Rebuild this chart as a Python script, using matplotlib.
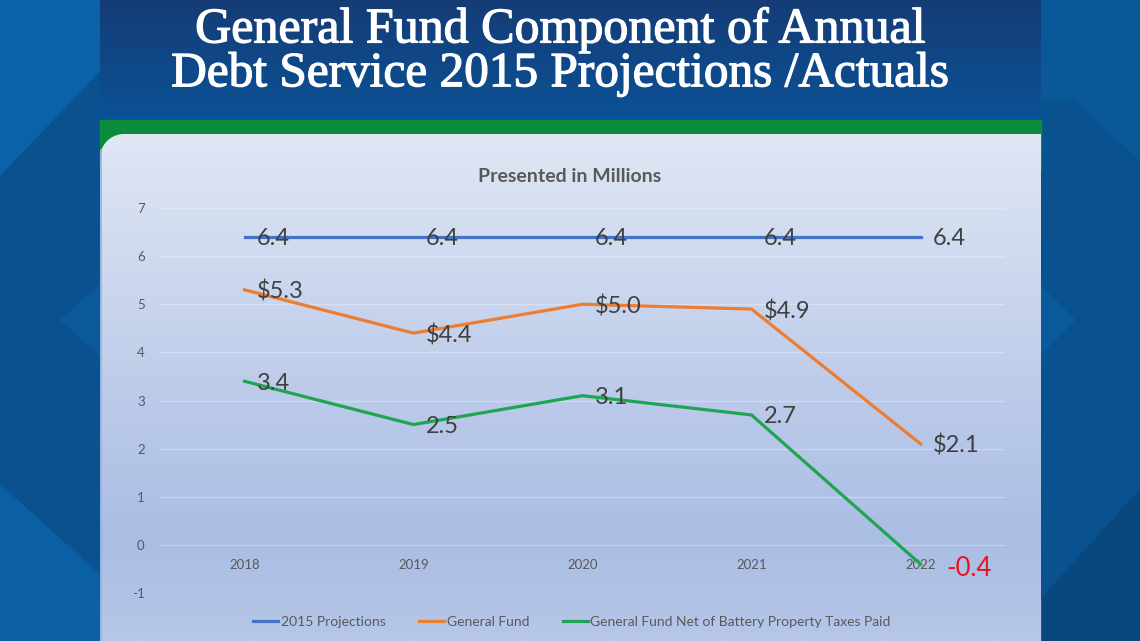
import matplotlib
matplotlib.use("Agg")
import matplotlib.pyplot as plt
import matplotlib.patheffects as pe
import numpy as np
from matplotlib.patches import Polygon, Rectangle
from matplotlib.lines import Line2D

plt.rcParams['font.family'] = ['Lato', 'DejaVu Sans']
plt.rcParams['axes.unicode_minus'] = False

# --- chart data (millions) ---
years = ["2018", "2019", "2020", "2021", "2022"]
projections = [6.4, 6.4, 6.4, 6.4, 6.4]
general_fund = [5.3, 4.4, 5.0, 4.9, 2.1]
net_of_battery = [3.4, 2.5, 3.1, 2.7, -0.4]

series_names = ["2015 Projections", "General Fund",
                "General Fund Net of Battery Property Taxes Paid"]
series_colors = ["#4472C4", "#ED7D31", "#1FA552"]
label_fmt = ["{:.1f}", "${:.1f}", "{:.1f}"]

W, H = 1140, 641
fig = plt.figure(figsize=(W / 100, H / 100), dpi=100)

# ---------- slide background (pixel coords) ----------
bg = fig.add_axes([0, 0, 1, 1])
bg.set_xlim(0, W)
bg.set_ylim(H, 0)
bg.axis("off")

bg.add_patch(Rectangle((0, 0), W, H, color="#09528f", zorder=0))
# diagonal shading on the side strips
bg.add_patch(Polygon([(0, 0), (100, 0), (100, 70), (0, 175)], color="#0b62a7", zorder=1))
bg.add_patch(Polygon([(0, 485), (100, 575), (100, H), (0, H)], color="#0b5fa3", zorder=1))
bg.add_patch(Polygon([(60, 320), (100, 285), (100, 355)], color="#0a5a9b", zorder=1))
bg.add_patch(Polygon([(1040, 0), (1140, 0), (1140, 160), (1075, 100), (1040, 100)],
                     color="#0a5898", zorder=1))
bg.add_patch(Polygon([(1040, 600), (1140, 490), (1140, H), (1040, H)], color="#08487f", zorder=1))
bg.add_patch(Polygon([(1040, 285), (1075, 320), (1040, 355)], color="#0a5a9b", zorder=1))

# banner gradient
grad = np.linspace(0, 1, 120)[:, None]
top_c = np.array([0x15, 0x3c, 0x76]) / 255
bot_c = np.array([0x0b, 0x52, 0x96]) / 255
banner = top_c + (bot_c - top_c) * grad[..., None]
bg.imshow(np.repeat(banner, 2, axis=1), extent=(100, 1041, 120, 0), aspect="auto", zorder=2)

# green stripe
bg.add_patch(Rectangle((100, 120), 941, 50, color="#0b8b3c", zorder=3))
bg.add_patch(Polygon([(1020, H), (1041, 600), (1041, H)], color="#0b8b3c", zorder=3))

# panel with rounded top-left corner
r = 24
ang = np.linspace(np.pi, 1.5 * np.pi, 20)
corner = [(100 + r + r * np.cos(a), 134 + r + r * np.sin(a)) for a in ang]
panel_pts = [(100, H + 5)] + corner + [(1041, 134), (1041, H + 5)]
panel = Polygon(panel_pts, closed=True, facecolor="none", edgecolor="none", zorder=4)
bg.add_patch(panel)
stops_y = [0.0, 0.55, 0.8, 1.0]
stops_c = [np.array([0xe0, 0xe7, 0xf4]), np.array([0xba, 0xc9, 0xe9]),
           np.array([0xaa, 0xbd, 0xe3]), np.array([0xb6, 0xc7, 0xe8])]
ty = np.linspace(0, 1, 300)
pg = np.stack([np.interp(ty, stops_y, [c[k] for c in stops_c]) for k in range(3)], axis=1) / 255
img = bg.imshow(np.repeat(pg[:, None, :], 2, axis=1), extent=(100, 1041, H, 134),
                aspect="auto", zorder=4)
img.set_clip_path(panel)
bg.plot([100.5, 100.5], [150, H], color="#8db3e6", lw=1.2, zorder=5)

# slide title (regular serif thickened a little)
thick = [pe.withStroke(linewidth=0.9, foreground="white")]
bg.text(560, 30, "General Fund Component of Annual", color="white",
        family="Liberation Serif", fontsize=36, ha="center", va="center",
        zorder=6, path_effects=thick)
bg.text(560, 74, "Debt Service 2015 Projections /Actuals", color="white",
        family="Liberation Serif", fontsize=35.5, ha="center", va="center",
        zorder=6, path_effects=thick)

# ---------- chart ----------
ax = fig.add_axes([160 / W, (H - 593) / H, 845 / W, 385 / H])
ax.set_facecolor("none")
ax.set_xlim(-0.5, len(years) - 0.5)
ax.set_ylim(-1, 7)
for s in ax.spines.values():
    s.set_visible(False)
ax.set_yticks(range(-1, 8))
ax.tick_params(axis="y", length=0, pad=11, labelsize=9.5, labelcolor="#595959")
ax.set_xticks([])
ax.grid(axis="y", color="white", alpha=0.3, lw=1)
ax.set_axisbelow(True)

x = np.arange(len(years))
for xi, yr in zip(x, years):
    ax.annotate(yr, (xi, 0), xytext=(0, -20), textcoords="offset pixels",
                ha="center", va="center", fontsize=9.5, color="#595959")

handles = []
for vals, name, col, fmt in zip([projections, general_fund, net_of_battery],
                                series_names, series_colors, label_fmt):
    ln, = ax.plot(x, vals, color=col, lw=2.3, solid_joinstyle="miter", zorder=3)
    handles.append(Line2D([], [], color=col, lw=2.3))
    for xi, v in zip(x, vals):
        if v < 0:
            ax.annotate(fmt.format(v), (xi, v), xytext=(26, -4), textcoords="offset pixels",
                        ha="left", va="center", fontsize=18.5, color="#E8131F", zorder=4)
        else:
            ax.annotate(fmt.format(v), (xi, v), xytext=(12, -2), textcoords="offset pixels",
                        ha="left", va="center", fontsize=17, color="#404040", zorder=4)

fig.text(570 / W, 1 - 177 / H, "Presented in Millions", ha="center", va="center",
         fontsize=14, fontweight="bold", color="#595959")

leg = fig.legend(handles, series_names, loc="center", bbox_to_anchor=(572 / W, 19 / H),
                 ncol=3, frameon=False, fontsize=10, handlelength=1.8,
                 handletextpad=0.2, columnspacing=2.4)
for t in leg.get_texts():
    t.set_color("#595959")

fig.savefig("out.png", dpi=100)
